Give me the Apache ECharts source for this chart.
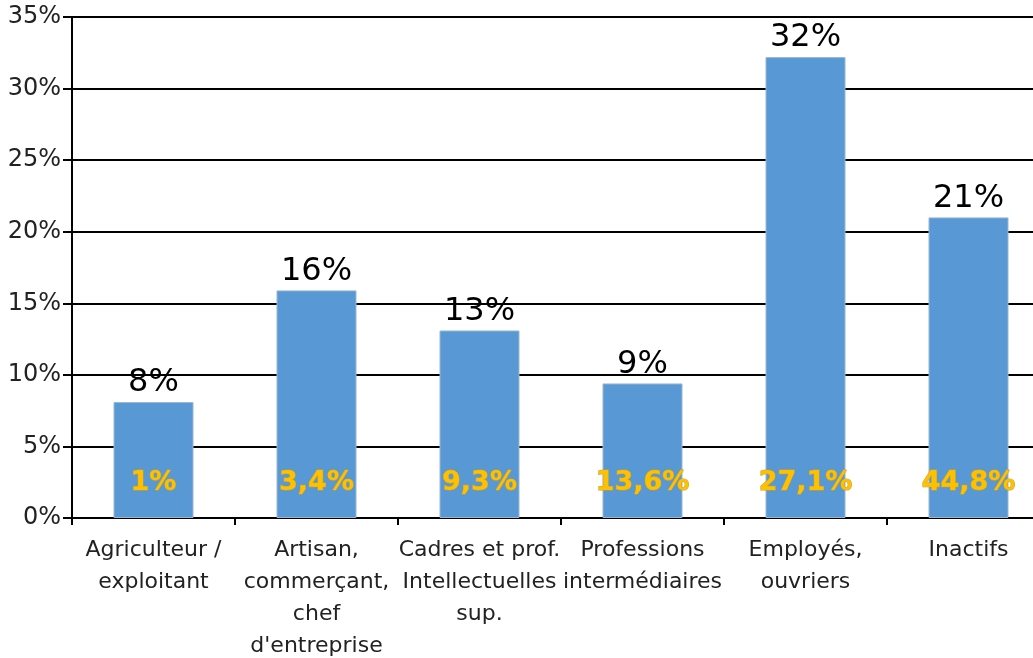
<!DOCTYPE html>
<html>
<head>
<meta charset="utf-8">
<script src="https://cdn.jsdelivr.net/npm/echarts@6/dist/echarts.min.js"></script>
<style>
  html, body { margin: 0; padding: 0; background: #fff; }
  #chart { width: 1033px; height: 658px; }
</style>
</head>
<body>
<div id="chart"></div>
<script>
const categories = [
  "Agriculteur /\nexploitant",
  "Artisan,\ncommerçant,\nchef\nd'entreprise",
  "Cadres et prof.\nIntellectuelles\nsup.",
  "Professions\nintermédiaires",
  "Employés,\nouvriers",
  "Inactifs"
];
const shares = [8.1, 15.9, 13.1, 9.4, 32.2, 21.0];
const innerLabels = ["1%", "3,4%", "9,3%", "13,6%", "27,1%", "44,8%"];
const yTicks = [0, 5, 10, 15, 20, 25, 30, 35];

const font = "'DejaVu Sans', 'Open Sans', sans-serif";
let chart = echarts.init(document.getElementById("chart"));
let option = {
  animation: false,
  grid: {
    left: 72, width: 978, top: 17, bottom: 140,
    containLabel: false, outerBoundsMode: "none"
  },
  xAxis: {
    type: "category",
    data: categories,
    axisLine: { lineStyle: { color: "#000", width: 2 } },
    axisTick: { show: true, length: 7, lineStyle: { color: "#000", width: 2 } },
    axisLabel: {
      color: "#222",
      fontFamily: font,
      fontSize: 22,
      lineHeight: 32,
      margin: 16,
      interval: 0
    }
  },
  yAxis: {
    type: "value",
    min: yTicks[0],
    max: yTicks[yTicks.length - 1],
    interval: 5,
    axisLine: { show: true, lineStyle: { color: "#000", width: 2 } },
    axisTick: { show: true, length: 9, lineStyle: { color: "#000", width: 2 } },
    splitLine: { lineStyle: { color: "#000", width: 2 } },
    axisLabel: {
      color: "#222",
      fontFamily: font,
      fontSize: 24,
      margin: 11,
      formatter: (v) => v + "%"
    }
  },
  series: [
    {
      type: "bar",
      data: shares,
      barWidth: 80,
      itemStyle: { color: "#5898d4", borderColor: "#9bb7d2", borderWidth: 1 },
      label: {
        show: true,
        position: "top",
        distance: 3,
        color: "#000",
        fontFamily: font,
        fontSize: 32,
        formatter: (p) => Math.round(p.value) + "%"
      }
    },
    {
      type: "bar",
      data: shares,
      barWidth: 80,
      barGap: "-100%",
      itemStyle: { color: "transparent" },
      silent: true,
      label: {
        show: true,
        position: "insideBottom",
        distance: 22,
        color: "#ffc000",
        fontFamily: font,
        fontWeight: "bold",
        fontSize: 27,
        textBorderColor: "#c9a227",
        textBorderWidth: 1,
        formatter: (p) => innerLabels[p.dataIndex]
      }
    }
  ]
};
chart.setOption(option);
</script>
</body>
</html>
